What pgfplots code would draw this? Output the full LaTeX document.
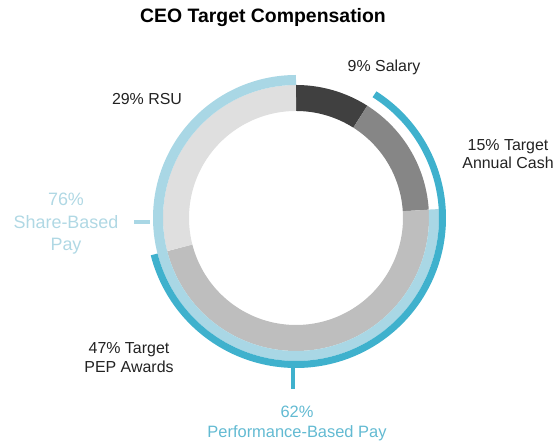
\documentclass[border=0pt]{standalone}
\usepackage{fontspec}
\setmainfont{Liberation Sans}
\usepackage{pgfplots}
\pgfplotsset{compat=1.18}
\usepackage{pgfplotstable}

\definecolor{cSal}{HTML}{404040}
\definecolor{cCash}{HTML}{868686}
\definecolor{cPEP}{HTML}{BEBEBE}
\definecolor{cRSU}{HTML}{DFDFDF}
\definecolor{cShare}{HTML}{A9D7E5}
\definecolor{cPerf}{HTML}{3FB1CD}
\definecolor{tShare}{HTML}{B0D8E4}
\definecolor{tPerf}{HTML}{62BAD2}
\definecolor{tDark}{HTML}{222222}

% CEO target compensation mix (percent)
\pgfplotstableread{
component value
Salary 9
Cash 15
PEP 47
RSU 29
}\comp

\pgfplotsset{seg/.style={draw=#1, line cap=butt, line join=round, no markers, samples=120, smooth}}

\begin{document}
\begin{tikzpicture}
\pgfplotstablegetelem{0}{value}\of\comp \let\vSal\pgfplotsretval
\pgfplotstablegetelem{1}{value}\of\comp \let\vCash\pgfplotsretval
\pgfplotstablegetelem{2}{value}\of\comp \let\vPEP\pgfplotsretval
\pgfplotstablegetelem{3}{value}\of\comp \let\vRSU\pgfplotsretval
\pgfmathsetmacro\aA{90}
\pgfmathsetmacro\aB{\aA-3.6*\vSal}
\pgfmathsetmacro\aC{\aB-3.6*\vCash}
\pgfmathsetmacro\aD{\aC-3.6*\vPEP}
\pgfmathsetmacro\aE{\aD-3.6*\vRSU}
\begin{axis}[
  x=1bp, y=1bp,
  xmin=-296, xmax=264, ymin=-228, ymax=218,
  hide axis, clip=false,
]
% inner ring: components
\addplot[seg=cSal,  line width=26bp, domain=\aB:\aA] ({120*cos(x)},{120*sin(x)});
\addplot[seg=cCash, line width=26bp, domain=\aC:\aB] ({120*cos(x)},{120*sin(x)});
\addplot[seg=cPEP,  line width=26bp, domain=\aD:\aC] ({120*cos(x)},{120*sin(x)});
\addplot[seg=cRSU,  line width=26bp, domain=\aE:\aD] ({120*cos(x)},{120*sin(x)});
% share-based pay (PEP + RSU)
\addplot[seg=cShare, line width=10bp, domain=\aE:\aC] ({138*cos(x)},{138*sin(x)});
% performance-based pay (Cash + PEP)
\addplot[seg=cPerf, line width=7bp, domain=\aD:\aB] ({146.5*cos(x)},{146.5*sin(x)});
% leader ticks
\addplot[draw=cShare, line width=4bp, no markers] coordinates {(-162,-4) (-146,-4)};
\addplot[draw=cPerf, line width=4.5bp, no markers] coordinates {(-3,-148) (-3,-171)};

% labels
\node[font=\fontsize{19.5}{23}\selectfont\bfseries, anchor=base] at (axis cs:-33,195) {CEO Target Compensation};
\node[font=\fontsize{16}{18.5}\selectfont, text=tDark, anchor=base] at (axis cs:88,146) {9\% Salary};
\node[font=\fontsize{16}{18.5}\selectfont, text=tDark, align=center] at (axis cs:212,64) {15\% Target\\Annual Cash};
\node[font=\fontsize{16}{18.5}\selectfont, text=tDark] at (axis cs:-149,119) {29\% RSU};
\node[font=\fontsize{18}{22.5}\selectfont, text=tShare, align=center] at (axis cs:-230,-6) {76\%\\Share-Based\\Pay};
\node[font=\fontsize{16}{19}\selectfont, text=tDark, align=center] at (axis cs:-167,-139.5) {47\% Target\\PEP Awards};
\node[font=\fontsize{16.5}{20}\selectfont, text=tPerf, align=center] at (axis cs:1,-205.5) {62\%\\Performance-Based Pay};
\coordinate (BL) at (axis cs:-296,-228);
\coordinate (TR) at (axis cs:264,218);
\end{axis}
\pgfresetboundingbox
\useasboundingbox (BL) rectangle (TR);
\end{tikzpicture}
\end{document}
